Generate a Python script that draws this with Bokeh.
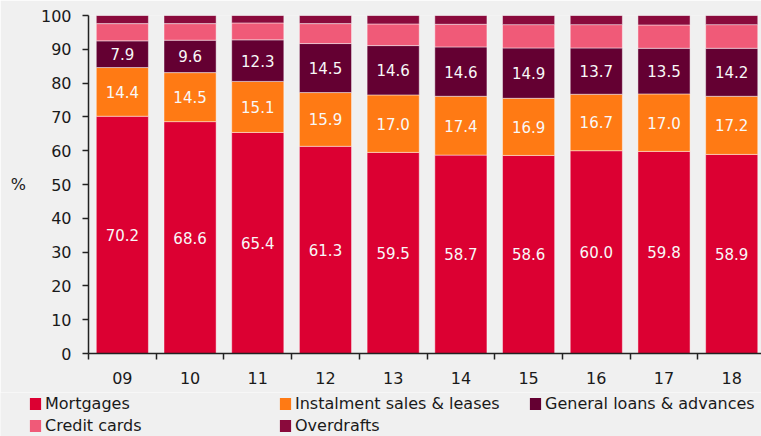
import numpy as np
from bokeh.plotting import figure
from bokeh.layouts import column
from bokeh.models import (ColumnDataSource, Range1d, FixedTicker, Legend, LegendItem)
from bokeh.core.properties import value
from bokeh.embed import file_html
from bokeh.resources import INLINE

years = ["09", "10", "11", "12", "13", "14", "15", "16", "17", "18"]
mortgages = [70.2, 68.6, 65.4, 61.3, 59.5, 58.7, 58.6, 60.0, 59.8, 58.9]
instalment = [14.4, 14.5, 15.1, 15.9, 17.0, 17.4, 16.9, 16.7, 17.0, 17.2]
general = [7.9, 9.6, 12.3, 14.5, 14.6, 14.6, 14.9, 13.7, 13.5, 14.2]
credit_cards = [5.1, 4.9, 5.0, 5.9, 6.4, 6.7, 6.9, 6.9, 6.9, 7.0]
overdrafts = [2.4, 2.4, 2.2, 2.4, 2.5, 2.6, 2.7, 2.7, 2.8, 2.7]

series = ["mortgages", "instalment", "general", "credit_cards", "overdrafts"]
names = ["Mortgages", "Instalment sales & leases", "General loans & advances",
         "Credit cards", "Overdrafts"]
colors = ["#DC0032", "#FF7A14", "#640032", "#F05A78", "#8A0A3C"]

FONT = "DejaVu Sans"
BG = "#F0F0F0"
TXT = "#1a1a1a"

x = list(range(len(years)))
src = ColumnDataSource(dict(x=x, mortgages=mortgages, instalment=instalment,
                            general=general, credit_cards=credit_cards,
                            overdrafts=overdrafts))

p = figure(width=761, height=392, output_backend="svg", toolbar_location=None,
           x_range=Range1d(-0.5, 9.44), y_range=Range1d(0, 100),
           min_border_left=88, min_border_right=0, min_border_top=15,
           min_border_bottom=39)
p.frame_align = False
p.background_fill_color = BG
p.border_fill_color = BG
p.outline_line_color = None
p.grid.visible = False

rs = p.vbar_stack(series, x="x", width=0.77, source=src, color=colors,
                  line_color="white", line_alpha=0.45, line_width=1)

# value labels
lab_x, lab_y, lab_t = [], [], []
arr = np.array([mortgages, instalment, general])
cum = np.cumsum(arr, axis=0)
for k in range(3):
    for i in range(len(years)):
        lab_x.append(x[i])
        lab_y.append(cum[k, i] - arr[k, i] / 2)
        lab_t.append(f"{arr[k, i]:.1f}")
p.text(x=lab_x, y=lab_y, text=lab_t, text_align="center", text_baseline="middle",
       text_color="#F8F8F8", text_font=value(FONT), text_font_size="15px")

# axes
xa = p.xaxis[0]
xa.ticker = FixedTicker(ticks=x, minor_ticks=[i - 0.5 for i in range(len(years) + 1)])
xa.major_label_overrides = {i: years[i] for i in x}
xa.major_tick_out = 0
xa.major_tick_in = 0
xa.minor_tick_out = 6
xa.minor_tick_in = 0
xa.major_label_standoff = 12
ya = p.yaxis[0]
ya.ticker = FixedTicker(ticks=list(range(0, 101, 10)))
ya.major_tick_out = 6
ya.major_tick_in = 0
ya.minor_tick_line_color = None
ya.major_label_standoff = 11
ya.axis_label = "%"
ya.axis_label_orientation = "horizontal"
ya.axis_label_standoff = 12
ya.axis_label_text_font_style = "normal"
for ax in (xa, ya):
    ax.axis_line_color = "#222222"
    ax.axis_line_width = 1.5
    ax.major_tick_line_color = "#222222"
    ax.major_tick_line_width = 1.5
    ax.minor_tick_line_color = "#222222" if ax is xa else None
    ax.minor_tick_line_width = 1.5
    ax.major_label_text_font = FONT
    ax.major_label_text_font_size = "16px"
    ax.major_label_text_color = TXT
    ax.axis_label_text_font = FONT
    ax.axis_label_text_font_size = "16px"
    ax.axis_label_text_color = TXT

# legend panel (separate strip below the chart)
q = figure(width=761, height=44, output_backend="svg", toolbar_location=None,
           x_range=Range1d(0, 1), y_range=Range1d(0, 1),
           min_border_left=0, min_border_right=0, min_border_top=0,
           min_border_bottom=0)
q.frame_align = False
q.axis.visible = False
q.grid.visible = False
q.outline_line_color = None
q.background_fill_color = BG
q.border_fill_color = BG
# legend swatches: one off-screen point each, so the legend can draw its glyph
dummies = [q.vbar(x=[5], top=[5], width=0.5, fill_color=c, line_color=None)
           for c in colors]
items = [LegendItem(label=n, renderers=[r]) for n, r in zip(names, dummies)]
leg = Legend(items=items, location=(28, 1), orientation="horizontal", ncols=3,
             glyph_width=14, glyph_height=15, label_standoff=3, label_width=231,
             label_height=20, spacing=2, padding=0, margin=0,
             border_line_color=None, background_fill_alpha=0,
             label_text_font=FONT, label_text_font_size="16px",
             label_text_color=TXT)
q.add_layout(leg, "center")

layout = column(p, q, spacing=0)
open("out.html", "w").write(file_html(layout, INLINE))
